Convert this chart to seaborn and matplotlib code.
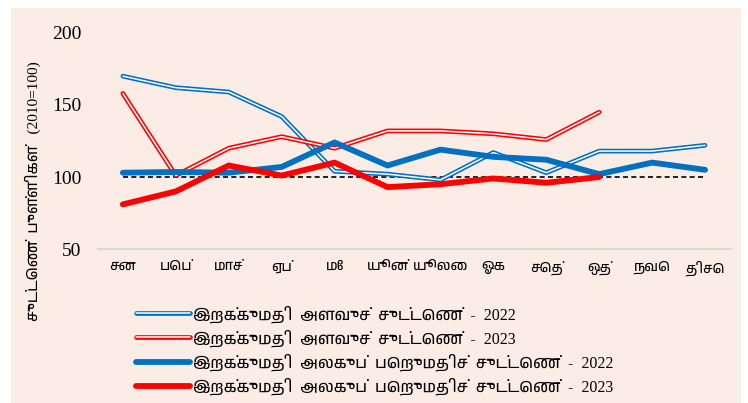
import matplotlib
matplotlib.use("Agg")
import matplotlib.pyplot as plt
import matplotlib.patheffects as pe
import matplotlib.font_manager as fm
import numpy as np
import pandas as pd
import seaborn as sns

months = ["சன", "பெப்", "மாச்", "ஏப்", "மே", "யூன்", "யூலை", "ஓக", "செத்", "ஒத்", "நவெ", "திசெ"]

volume_2022 = [170, 162, 159, 142, 104, 102, 98, 117, 103, 118, 118, 122]
volume_2023 = [158, 101, 120, 128, 120, 132, 132, 130, 126, 145]
price_2022 = [103, 103.5, 103, 107, 124, 108, 119, 114, 112, 102, 110, 105]
price_2023 = [81, 90, 108, 101, 110, 93, 95, 99, 96, 100]

labels = [
    "இறக்குமதி  அளவுச்  சுட்டெண்  -  2022",
    "இறக்குமதி  அளவுச்  சுட்டெண்  -  2023",
    "இறக்குமதி  அலகுப்  பெறுமதிச்  சுட்டெண்  -  2022",
    "இறக்குமதி  அலகுப்  பெறுமதிச்  சுட்டெண்  -  2023",
]
ylabel = "சுட்டெண்  புள்ளிகள்   (2010=100)"

blue = "#0070C0"
red = "#FF0000"
bg = "#FBEDE5"

sns.set_style("white")
# Tamil glyphs come from whatever Tamil font is installed, digits from the serif
tamil = sorted({f.name for f in fm.fontManager.ttflist if "Tamil" in f.name})
plt.rcParams["font.family"] = ["Liberation Serif"] + tamil + ["DejaVu Sans"]
plt.rcParams["text.color"] = "black"
plt.rcParams["xtick.color"] = "black"
plt.rcParams["ytick.color"] = "black"
plt.rcParams["axes.labelcolor"] = "black"

fig = plt.figure(figsize=(7.48, 4.03), dpi=100)
fig.patch.set_facecolor("white")
fig.patches.append(plt.Rectangle((11 / 748, 0), 730 / 748, 395 / 403,
                                 transform=fig.transFigure, facecolor=bg,
                                 edgecolor="none", zorder=-10))
ax = fig.add_axes([98 / 748, 0.382, 633 / 748, 0.572])
ax.patch.set_alpha(0)

x = np.arange(len(months))

def double(color):
    return [pe.Stroke(linewidth=3.4, foreground=color), pe.Normal()]

sns.lineplot(x=x, y=volume_2022, ax=ax, color="white", linewidth=1.1,
             path_effects=double(blue), label=labels[0])
sns.lineplot(x=x[:len(volume_2023)], y=volume_2023, ax=ax, color="white", linewidth=1.1,
             path_effects=double(red), label=labels[1])
sns.lineplot(x=x, y=price_2022, ax=ax, color=blue, linewidth=4.2, label=labels[2])
sns.lineplot(x=x[:len(price_2023)], y=price_2023, ax=ax, color=red, linewidth=4.2, label=labels[3])
ax.plot(x, [100] * len(x), color="black", linestyle=(0, (3, 2)), linewidth=1.2, zorder=1)

ax.set_xlim(-0.47, 11.49)
ax.set_ylim(50, 210)
ax.set_yticks([50, 100, 150, 200])
ax.set_xticks(x)
ax.set_xticklabels(months, fontsize=10)
ax.tick_params(axis="y", labelsize=14, pad=12, length=0)
ax.tick_params(axis="x", pad=8, length=0)
for s in ["top", "right", "left"]:
    ax.spines[s].set_visible(False)
ax.spines["bottom"].set_color("#D9D9D9")
ax.spines["bottom"].set_linewidth(1.5)

ax.set_ylabel(ylabel, fontsize=11)
ax.yaxis.set_label_coords(-0.09, 0.25)

ax.legend(loc="upper left", bbox_to_anchor=(128 / 748, 106 / 403),
          bbox_transform=fig.transFigure, frameon=False, fontsize=11.5,
          handlelength=3.4, handletextpad=0.2, labelspacing=0.4, borderpad=0)

fig.savefig("out.png", dpi=100, facecolor="white")
